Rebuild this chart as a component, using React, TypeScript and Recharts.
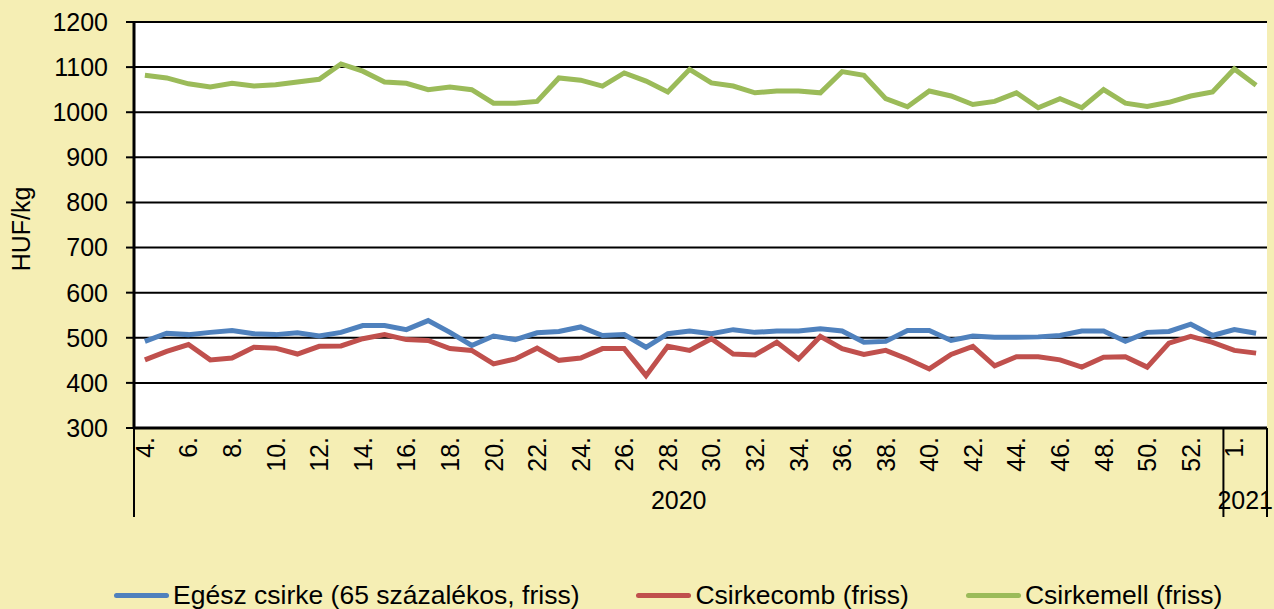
import { CartesianGrid, Legend, Line, LineChart, XAxis, YAxis } from 'recharts';

// weeks shown on the category axis, grouped by year
const weeks2020 = [
	4, 5, 6, 7, 8, 9, 10, 11, 12, 13, 14, 15, 16, 17, 18, 19, 20, 21, 22, 23, 24, 25, 26, 27, 28,
	29, 30, 31, 32, 33, 34, 35, 36, 37, 38, 39, 40, 41, 42, 43, 44, 45, 46, 47, 48, 49, 50, 51, 52, 53,
];
const weeks2021 = [1, 2];

// HUF/kg
const egeszCsirke = [
	492, 510, 507, 512, 516, 509, 507, 511, 504, 512, 527, 527, 518, 538, 512, 483, 504, 496,
	511, 514, 524, 505, 507, 479, 509, 515, 509, 518, 512, 515, 515, 520, 515, 490, 492, 516,
	516, 494, 504, 501, 501, 502, 505, 515, 515, 492, 512, 514, 530, 505, 518, 510,
];
const csirkecomb = [
	451, 470, 485, 451, 455, 479, 477, 464, 481, 482, 498, 507, 496, 494, 476, 472, 442, 453,
	477, 450, 455, 476, 476, 416, 481, 472, 498, 464, 462, 490, 453, 503, 476, 463, 472, 453,
	431, 463, 481, 438, 458, 458, 451, 435, 457, 458, 435, 488, 503, 490, 472, 466,
];
const csirkemell = [
	1082, 1076, 1063, 1056, 1064, 1058, 1061, 1067, 1073, 1107, 1091, 1067, 1064, 1050, 1056, 1050, 1020, 1020,
	1024, 1076, 1071, 1058, 1087, 1069, 1045, 1095, 1065, 1058, 1043, 1047, 1047, 1043, 1090, 1082, 1030, 1012,
	1047, 1036, 1017, 1024, 1043, 1010, 1030, 1010, 1050, 1020, 1013, 1022, 1036, 1045, 1096, 1060,
];

const yTicks = [300, 400, 500, 600, 700, 800, 900, 1000, 1100, 1200];

const seriesKeys = ['egesz', 'comb', 'mell'];
const seriesNames = ['Egész csirke (65 százalékos, friss)', 'Csirkecomb (friss)', 'Csirkemell (friss)'];
const seriesColors = ['#4F81BD', '#C0504D', '#9BBB59'];

const rows = [
	...weeks2020.map((w) => ({ week: `${w}.`, year: '2020' })),
	...weeks2021.map((w) => ({ week: `${w}.`, year: '2021' })),
].map((r, i) => ({ ...r, egesz: egeszCsirke[i], comb: csirkecomb[i], mell: csirkemell[i] }));

const FONT = '"Liberation Sans", Arial, sans-serif';
const BG = '#F5EEB4';

const WeekTick = (props: any) => {
	const { x, y, payload, index, width } = props;
	const half = payload?.offset || (width ? width / rows.length / 2 : 10.9);
	const row = rows[index];
	const parts = [];
	if (index % 2 === 0) {
		const bx = x + 9;
		const by = y + 9;
		parts.push(
			<text
				key="w"
				x={bx}
				y={by}
				transform={`rotate(-90, ${bx}, ${by})`}
				textAnchor="end"
				fontSize={25}
				fontFamily={FONT}
				fill="#000"
			>
				{row.week}
			</text>,
		);
	}
	// year group boundaries and labels
	if (index === 0 || rows[index - 1].year !== row.year) {
		const count = rows.filter((r) => r.year === row.year).length;
		parts.push(<line key="l" x1={x - half} x2={x - half} y1={y} y2={y + 89} stroke="#000" strokeWidth={2} />);
		parts.push(
			<text key="y" x={x - half + count * half} y={y + 81} textAnchor="middle" fontSize={25} fontFamily={FONT} fill="#000">
				{row.year}
			</text>,
		);
	}
	if (index === rows.length - 1) {
		parts.push(<line key="r" x1={x + half} x2={x + half} y1={y} y2={y + 89} stroke="#000" strokeWidth={2} />);
	}
	return <g>{parts}</g>;
};

const LegendContent = () => (
	<div style={{ display: 'flex', alignItems: 'center', paddingLeft: 114, gap: 57, fontFamily: FONT, fontSize: 26.5, lineHeight: '30px', color: '#000' }}>
		{seriesNames.map((name, i) => (
			<div key={name} style={{ display: 'flex', alignItems: 'center' }}>
				<span style={{ display: 'inline-block', width: 55, height: 5, borderRadius: 3, background: seriesColors[i], marginRight: 4 }} />
				<span>{name}</span>
			</div>
		))}
	</div>
);

export default function App() {
	return (
		<div style={{ position: 'absolute', left: 0, top: 0, width: 1274, height: 609, background: BG }}>
			<LineChart width={1274} height={609} data={rows} margin={{ top: 22, right: 7, left: 0, bottom: 92 }}>
				<CartesianGrid vertical={false} fill="#fff" stroke="#000" strokeWidth={2} />
				<XAxis
					dataKey="week"
					scale="band"
					interval={0}
					height={89}
					tickLine={false}
					tickSize={0}
					tickMargin={0}
					axisLine={{ stroke: '#000', strokeWidth: 3 }}
					tick={<WeekTick />}
				/>
				<YAxis
					width={134}
					domain={[300, 1200]}
					ticks={yTicks}
					interval={0}
					allowDataOverflow
					tickSize={8}
					tickMargin={18}
					tickLine={{ stroke: '#000', strokeWidth: 2 }}
					axisLine={{ stroke: '#000', strokeWidth: 3 }}
					tick={{ fontSize: 25, fontFamily: FONT, fill: '#000' }}
					label={{
						value: 'HUF/kg',
						angle: -90,
						position: 'insideLeft',
						dx: 16,
						dy: 4,
						style: { fontSize: 25, fontFamily: FONT, fill: '#000', textAnchor: 'middle' },
					}}
				/>
				<Legend
					layout="horizontal"
					verticalAlign="middle"
					align="center"
					wrapperStyle={{ top: 580, left: 0, width: 1274 }}
					content={<LegendContent />}
				/>
				{seriesKeys.map((k, i) => (
					<Line
						key={k}
						type="linear"
						dataKey={k}
						name={seriesNames[i]}
						stroke={seriesColors[i]}
						strokeWidth={5}
						dot={false}
						isAnimationActive={false}
					/>
				))}
			</LineChart>
		</div>
	);
}
